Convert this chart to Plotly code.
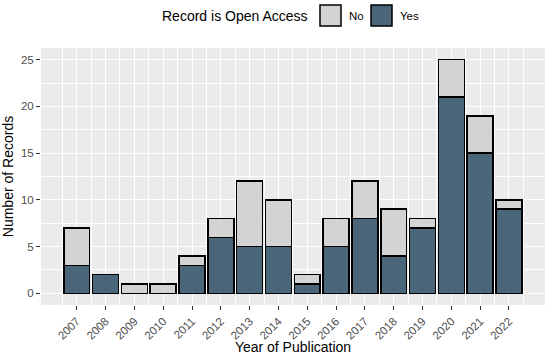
import plotly.graph_objects as go

years = list(range(2007, 2023))
yes_counts = [3, 2, 0, 0, 3, 6, 5, 5, 1, 5, 8, 4, 7, 21, 15, 9]
no_counts = [4, 0, 1, 1, 1, 2, 7, 5, 1, 3, 4, 5, 1, 4, 4, 1]
y_ticks = [0, 5, 10, 15, 20, 25]

yes_color = "#4b6579"
no_color = "#d3d3d3"

W, H = 550, 355
ML, MR, MT, MB = 41, 5, 48, 50
PW, PH = W - ML - MR, H - MT - MB

def px(x):
    return (x - ML) / PW

def py(y):
    return (H - MB - y) / PH

fig = go.Figure()
fig.add_trace(go.Bar(x=years, y=yes_counts, name="Yes", marker=dict(color=yes_color, line=dict(color="black", width=1.5)), width=0.9))
fig.add_trace(go.Bar(x=years, y=no_counts, name="No", marker=dict(color=no_color, line=dict(color="black", width=1.5)), width=0.9))

font = "Liberation Sans, Arial, sans-serif"
fig.update_layout(
    width=W, height=H,
    barmode="stack",
    plot_bgcolor="#ebebeb",
    paper_bgcolor="white",
    margin=dict(l=ML, r=MR, t=MT, b=MB, autoexpand=False),
    font=dict(family=font, color="#000000"),
    showlegend=False,
)

# manual legend (ggplot-style, top)
shapes = []
annotations = []
annotations.append(dict(text="Record is Open Access", x=px(310), y=py(16), xref="paper", yref="paper",
                        xanchor="right", yanchor="middle", showarrow=False, font=dict(size=14, color="black")))
for label, col, x0, tx in [("No", no_color, 320, 347), ("Yes", yes_color, 371, 398)]:
    shapes.append(dict(type="rect", xref="paper", yref="paper", x0=px(x0), x1=px(x0 + 21), y0=py(26), y1=py(5),
                       fillcolor=col, line=dict(color="black", width=1.5)))
    annotations.append(dict(text=label, x=px(tx), y=py(16), xref="paper", yref="paper",
                            xanchor="left", yanchor="middle", showarrow=False, font=dict(size=11.5, color="black")))
fig.update_layout(shapes=shapes, annotations=annotations)

fig.update_xaxes(
    range=[2005.76, 2023.25],
    tickmode="array", tickvals=years, ticktext=[str(y) for y in years],
    tickangle=-45,
    tickfont=dict(size=11.5, color="#4d4d4d"),
    ticks="outside", ticklen=4, tickcolor="#333333", tickwidth=1,
    showgrid=True, gridcolor="white", gridwidth=1.1,
    minor=dict(tickmode="array", tickvals=[y + 0.5 for y in range(2005, 2023)], showgrid=True, gridcolor="white", gridwidth=0.5),
    zeroline=False, showline=False, automargin=False,
    title=dict(text="Year of Publication", font=dict(size=14, color="black"), standoff=2),
)
fig.update_yaxes(
    range=[-1.25, 26.25],
    tickmode="array", tickvals=y_ticks,
    tickfont=dict(size=11.5, color="#4d4d4d"),
    ticks="outside", ticklen=4, tickcolor="#333333", tickwidth=1,
    showgrid=True, gridcolor="white", gridwidth=1.1,
    minor=dict(tickmode="array", tickvals=[2.5, 7.5, 12.5, 17.5, 22.5], showgrid=True, gridcolor="white", gridwidth=0.5),
    zeroline=False, showline=False, automargin=False,
    title=dict(text="Number of Records", font=dict(size=14, color="black"), standoff=4),
)

fig.write_html("out.html", config={"displayModeBar": False},
               post_script="document.body.style.margin='0';document.body.style.padding='0';")
